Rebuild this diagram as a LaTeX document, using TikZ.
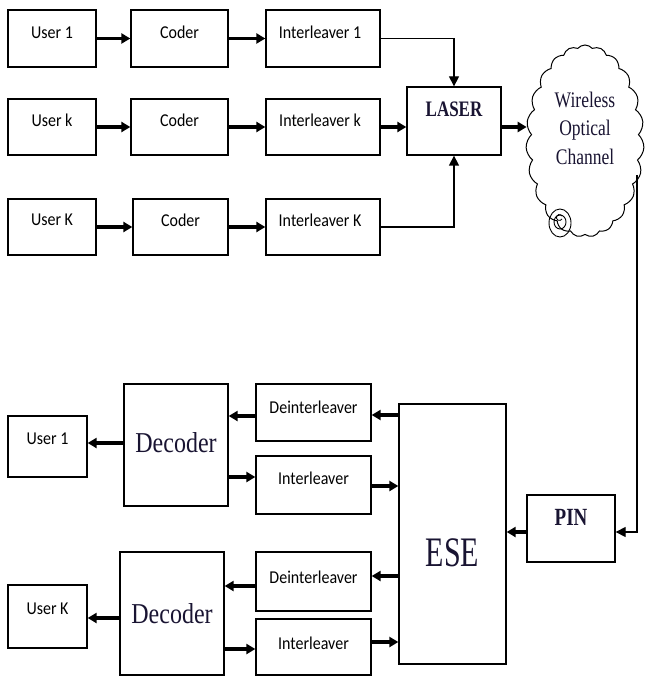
\documentclass[tikz,border=0pt]{standalone}
\usepackage{fontspec}
\setmainfont{Liberation Serif}
\newfontfamily\serfont{Liberation Serif}
\newfontfamily\calfont{Carlito}
\usetikzlibrary{arrows.meta,shapes.symbols,calc}
\newcommand\vstretch[2]{\scalebox{1}[#1]{#2}}
\begin{document}
\begin{tikzpicture}[x=1pt,y=-1pt,
  box/.style={draw,line width=1.3pt,inner sep=0pt},
  stxt/.style={font=\calfont\fontsize{16}{18}\selectfont,inner sep=0pt},
  rtxt/.style={inner sep=0pt,text={rgb,255:red,25;green,20;blue,50}},
  thick arrow/.style={line width=3.4pt,-{Triangle[length=9pt,width=10pt]}},
  thin arrow/.style={line width=1.3pt,-{Triangle[length=10pt,width=10pt]}}]
\useasboundingbox[fill=white] (0,0) rectangle (646,676);

% ---------- transmitter ----------
\node[box,minimum width=88,minimum height=57] (ua) at (52,38.5) {};
\node[box,minimum width=97,minimum height=57] (ca) at (179.5,38.5) {};
\node[box,minimum width=114,minimum height=57] (ia) at (323,38.5) {};
\node[box,minimum width=88,minimum height=56] (ub) at (52,127) {};
\node[box,minimum width=97,minimum height=56] (cb) at (179.5,127) {};
\node[box,minimum width=114,minimum height=56] (ib) at (323,127) {};
\node[box,minimum width=88,minimum height=56] (uc) at (52,227) {};
\node[box,minimum width=95,minimum height=56] (cc) at (180.5,227) {};
\node[box,minimum width=114,minimum height=56] (ic) at (323,227) {};

\node[stxt] (uat) at ([yshift=6]ua.center) {\vstretch{1.13}{User 1}};
\node[stxt] (cat) at ([yshift=6]ca.center) {\vstretch{1.13}{Coder}};
\node[stxt] (iat) at ([yshift=6,xshift=-3]ia.center) {\vstretch{1.13}{Interleaver 1}};
\node[stxt] (ubt) at ([yshift=7]ub.center) {\vstretch{1.13}{User k}};
\node[stxt] (cbt) at ([yshift=7]cb.center) {\vstretch{1.13}{Coder}};
\node[stxt] (ibt) at ([yshift=7,xshift=-3]ib.center) {\vstretch{1.13}{Interleaver k}};
\node[stxt] (uct) at ([yshift=7]uc.center) {\vstretch{1.13}{User K}};
\node[stxt] (cct) at ([yshift=7]cc.center) {\vstretch{1.13}{Coder}};
\node[stxt] (ict) at ([yshift=7,xshift=-3]ic.center) {\vstretch{1.13}{Interleaver K}};

\node[box,minimum width=94,minimum height=68] (las) at (454,121) {};
\node[rtxt,font=\serfont\bfseries\fontsize{17}{19}\selectfont] (last) at ([yshift=12]las.center) {\vstretch{1.3}{LASER}};

\node[cloud,draw,line width=1pt,cloud puffs=23,cloud puff arc=100,aspect=0.6,
      minimum width=118,minimum height=192,inner sep=0pt] (cloud) at (585,141) {};
\node[rtxt,align=center,font=\serfont\fontsize{17.5}{28.5}\selectfont] (cloudt) at (585,128)
  {\vstretch{1.27}{Wireless}\\ \vstretch{1.27}{Optical}\\ \vstretch{1.27}{Channel}};
\draw[line width=0.9pt] (560,223) ellipse [x radius=11,y radius=14];
\draw[line width=0.9pt] (560,222) ellipse [x radius=6,y radius=7];
\draw[line width=0.8pt] (562,219) arc[start angle=30,end angle=330,radius=3];
\coordinate (cl) at (637,175);

% ---------- receiver ----------
\node[box,minimum width=88,minimum height=67] (pin) at (571,528.5) {};
\node[rtxt,font=\serfont\bfseries\fontsize{19}{21}\selectfont] (pint) at ([yshift=11]pin.center) {\vstretch{1.3}{PIN}};
\node[box,minimum width=107,minimum height=260] (ese) at (452.5,534) {};
\node[rtxt,font=\serfont\fontsize{30}{32}\selectfont] (eset) at ([yshift=-19]ese.center) {\vstretch{1.4}{ESE}};

\node[box,minimum width=115,minimum height=57] (da) at (313.5,412.5) {};
\node[box,minimum width=115,minimum height=58] (ja) at (313.5,485) {};
\node[box,minimum width=104,minimum height=122] (deca) at (176,445) {};
\node[box,minimum width=79,minimum height=61] (va) at (47.5,446.5) {};
\node[box,minimum width=115,minimum height=59] (dk) at (313.5,581.5) {};
\node[box,minimum width=115,minimum height=56] (jk) at (313.5,647) {};
\node[box,minimum width=104,minimum height=123] (deck) at (172,613.5) {};
\node[box,minimum width=79,minimum height=63] (vk) at (47.5,616.5) {};

\node[stxt] (dat) at ([yshift=5]da.center) {\vstretch{1.13}{Deinterleaver}};
\node[stxt] (jat) at ([yshift=7]ja.center) {\vstretch{1.13}{Interleaver}};
\node[rtxt,font=\serfont\fontsize{24}{26}\selectfont] (decat) at ([yshift=2]deca.center) {\vstretch{1.2}{Decoder}};
\node[stxt] (vat) at ([yshift=8]va.center) {\vstretch{1.13}{User 1}};
\node[stxt] (dkt) at ([yshift=4]dk.center) {\vstretch{1.13}{Deinterleaver}};
\node[stxt] (jkt) at ([yshift=4]jk.center) {\vstretch{1.13}{Interleaver}};
\node[rtxt,font=\serfont\fontsize{24}{26}\selectfont] (deckt) at ([yshift=0]deck.center) {\vstretch{1.2}{Decoder}};
\node[stxt] (vkt) at ([yshift=8]vk.center) {\vstretch{1.13}{User K}};

% ---------- connectors: transmitter ----------
\draw[thick arrow] (ua.east) -- (ca.west);
\draw[thick arrow] (ca.east) -- (ia.west);
\draw[thick arrow] (ub.east) -- (cb.west);
\draw[thick arrow] (cb.east) -- (ib.west);
\draw[thick arrow] (uc.east) -- (cc.west);
\draw[thick arrow] (cc.east) -- (ic.west);
\draw[thin arrow] (ia.east) -| (las.north);
\draw[thick arrow] (ib.east) -- (las.west |- ib.east);
\draw[thin arrow] (ic.east) -| (las.south);
\draw[thick arrow] ([yshift=-6]las.east) -- ([yshift=-6]las.east -| cloud.west);

% ---------- connectors: receiver ----------
\draw[thin arrow] (cl) |- ([yshift=-3.5]pin.east);
\draw[thick arrow] ([yshift=-3.5]pin.west) -- ([yshift=-3.5]pin.west -| ese.east);
\draw[thick arrow] ([yshift=-2.5]ese.west |- da.east) -- ([yshift=-2.5]da.east);
\draw[thick arrow] ([yshift=-3.5]da.west) -- ([yshift=-3.5]da.west -| deca.east);
\draw[thick arrow] ([yshift=2]deca.west) -- ([yshift=2]deca.west -| va.east);
\draw[thick arrow] ([yshift=8]deca.east |- ja.west) -- ([yshift=8]ja.west);
\draw[thick arrow] ([yshift=-1]ja.east) -- ([yshift=-1]ja.east -| ese.west);
\draw[thick arrow] ([yshift=5.5]ese.west |- dk.east) -- ([yshift=5.5]dk.east);
\draw[thick arrow] ([yshift=-4.5]dk.west) -- ([yshift=-4.5]dk.west -| deck.east);
\draw[thick arrow] ([yshift=-4.5]deck.west) -- ([yshift=-4.5]deck.west -| vk.east);
\draw[thick arrow] ([yshift=-2]deck.east |- jk.west) -- ([yshift=-2]jk.west);
\draw[thick arrow] ([yshift=5]jk.east) -- ([yshift=5]jk.east -| ese.west);
\end{tikzpicture}
\end{document}
